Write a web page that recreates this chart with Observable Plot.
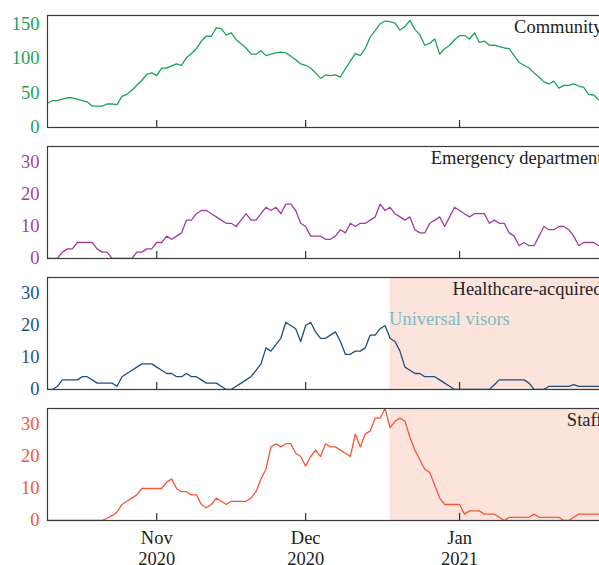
<!DOCTYPE html>
<html><head><meta charset="utf-8">
<script src="https://cdn.jsdelivr.net/npm/d3@7"></script>
<script src="https://cdn.jsdelivr.net/npm/@observablehq/plot@0.6"></script>
<style>
html,body{margin:0;padding:0;background:#fff;overflow:hidden;width:599px;height:565px;}
#chart{width:640px;}
#chart svg{display:block;}
#chart svg, #chart svg text{font-family:"Liberation Serif","DejaVu Serif",serif !important;font-size:18.5px;}
</style></head><body><div id="chart"></div>
<script>
const startDate = "2020-10-10";
const community = [35,39,39,41,43,43,41,39,37,31,
31,31,34,34,33,45,48,54,61,68,
77,79,75,86,86,89,92,90,101,107,
114,125,132,132,144,143,134,137,127,121,
115,106,106,111,104,106,108,109,108,103,
98,92,90,86,79,71,76,75,76,73,
85,96,107,104,114,131,140,150,154,153,
151,141,146,155,142,134,119,122,128,106,
114,119,127,133,133,128,137,123,125,119,
119,117,115,114,104,94,90,86,79,73,
66,63,67,57,61,61,63,60,58,48,
47,40];
const emergency = [0,0,0,2,3,3,5,5,5,5,
3,2,2,0,0,0,0,0,2,2,
3,3,5,5,7,6,7,8,12,12,
14,15,15,14,13,12,11,11,10,12,
14,12,12,14,16,15,16,14,17,17,
15,11,10,7,7,7,6,6,7,9,
8,11,10,11,11,12,13,17,15,16,
14,13,12,13,9,8,8,11,12,13,
10,13,16,15,14,13,14,14,14,11,
12,11,11,8,7,4,5,4,4,7,
10,9,9,10,10,9,7,4,5,5,
5,4];
const healthcare = [0,0,1,3,3,3,3,4,4,3,
2,2,2,2,1,4,5,6,7,8,
8,8,7,6,5,5,4,4,5,4,
4,3,2,2,2,1,0,0,1,2,
3,4,6,8,13,12,14,16,21,20,
19,15,20,21,18,16,16,17,18,15,
11,11,12,12,13,17,17,19,20,16,
15,12,7,6,5,5,4,4,4,3,
2,1,0,0,0,0,0,0,0,0,
1.5,3,3,3,3,3,3,2,0,0,
0,1,1,1,1,1,1.5,1,1,1,
1,1];
const staff = [0,0,0,0,0,0,0,0,0,0,
0,0,0.7,1.5,2.6,5,6,7,8,10,
10,10,10,10,12,13,10,9,9,8,
8,5,4,5,7,6,5,6,6,6,
6,7,9,13,16,23,24,23,24,24,
21,20,17,20,22,20,24,23,23,22,
21,20,27,23,27,28,32,32,35,29,
31,32,31,26,22,19,16,15,11,7,
5,5,5,5,2,3,3,3,2,2,
2,1,0,1,1,1,1,1,2,1,
1,1,1,1,0,0,1,2,2,2,
2,2];

const panelNames = ["Community", "Emergency department", "Healthcare-acquired", "Staff"];
const panelColors = ["#1ba35a", "#a23d9f", "#1d4f7f", "#f4573a"];
const yMax = [162, 35, 35, 35];
const yTicks = [[0, 50, 100, 150], [0, 10, 20, 30], [0, 10, 20, 30], [0, 10, 20, 30]];
const tickDates = ["2020-11-01", "2020-12-01", "2021-01-01"];
const tickLabels = ["Nov\n2020", "Dec\n2020", "Jan\n2021"];
const domainDates = ["2020-10-10", "2021-01-31"];
const interventionDate = "2020-12-18";
const interventionLabel = "Universal visors";
const shadedPanels = [false, false, true, true];

const series = [community, emergency, healthcare, staff];
const start = new Date(startDate);
const W = 640, ML = 47, MR = 32, MT = 15, PH = 112;
const font = "Liberation Serif";
const container = document.getElementById("chart");

series.forEach((vals, p) => {
  const last = p === series.length - 1;
  const MB = last ? 45 : 4;
  const color = panelColors[p];
  const data = vals.map((v, i) => ({date: d3.utcDay.offset(start, i), value: v}));
  const marks = [];
  if (shadedPanels[p]) {
    marks.push(Plot.rect([{x1: new Date(interventionDate), x2: new Date(domainDates[1])}],
      {x1: "x1", x2: "x2", fill: "#fce4dd"}));
  }
  marks.push(Plot.lineY(data, {x: "date", y: "value", stroke: color, strokeWidth: 1.3, clip: true}));
  marks.push(Plot.frame({stroke: "#3a3a3a", strokeWidth: 1.2}));
  marks.push(Plot.tickX(tickDates.map(d => new Date(d)), {x: d => d, insetTop: PH - 7, stroke: "#333", strokeWidth: 1.2}));
  marks.push(Plot.axisY({ticks: yTicks[p], tickSize: 0, tickPadding: 8, color: color, label: null, fontFamily: font, fontSize: 18.5}));
  marks.push(Plot.text([panelNames[p]], {text: d => d, frameAnchor: "top-right", textAnchor: "end", dx: -6, dy: 4, fill: "#222", fontFamily: font, fontSize: 18.5}));
  if (p === 2) {
    marks.push(Plot.text([interventionLabel], {x: () => new Date(interventionDate), text: d => d, frameAnchor: "top", textAnchor: "start", dy: 34, dx: -1, fill: "#7bbcc1", fontFamily: font, fontSize: 18.5}));
  }
  if (last) {
    marks.push(Plot.text(tickDates, {x: d => new Date(d), text: (d, i) => tickLabels[i], frameAnchor: "bottom", lineAnchor: "top", dy: 8, lineHeight: 1.15, fill: "#222", fontFamily: font, fontSize: 18.5}));
  }
  const chart = Plot.plot({
    width: W,
    height: MT + PH + MB,
    marginLeft: ML,
    marginRight: MR,
    marginTop: MT,
    marginBottom: MB,
    style: {fontFamily: font, fontSize: "18.5px", background: "transparent", overflow: "visible"},
    x: {type: "utc", domain: domainDates.map(d => new Date(d)), axis: null},
    y: {domain: [0, yMax[p]]},
    marks
  });
  container.appendChild(chart);
});
</script>
</body></html>
